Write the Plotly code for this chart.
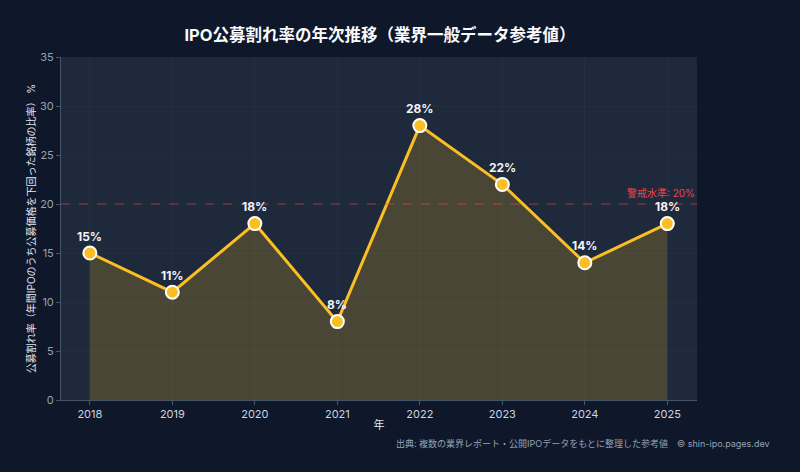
import plotly.graph_objects as go

years = [2018, 2019, 2020, 2021, 2022, 2023, 2024, 2025]
rates = [15, 11, 18, 8, 28, 22, 14, 18]
labels = [f"{v}%" for v in rates]
warn_level = 20

FONT = "Inter, Noto Sans CJK JP, Noto Sans, sans-serif"

fig = go.Figure()
fig.add_trace(go.Scatter(
    x=years, y=rates, mode="lines+markers",
    line=dict(color="#fbbf24", width=3),
    marker=dict(size=13, color="#fbbf24", line=dict(color="#ffffff", width=2)),
    fill="tozeroy", fillcolor="rgba(251,191,36,0.2)",
    cliponaxis=False, showlegend=False,
))
for x, y, t in zip(years, rates, labels):
    fig.add_annotation(x=x, y=y, text=t, showarrow=False, yshift=17,
                       font=dict(color="#f1f5f9", size=12, family=FONT, weight="bold"))
fig.add_hline(y=warn_level, line=dict(color="rgba(239,68,68,0.6)", width=1, dash="dash"),
              annotation_text=f"警戒水準: {warn_level}%", annotation_position="top right",
              annotation_font=dict(color="#ef4444", size=10, family=FONT),
              annotation_yshift=3)

fig.update_layout(
    width=800, height=472,
    paper_bgcolor="#0f172a", plot_bgcolor="#1e293b",
    margin=dict(l=61, r=103, t=57, b=72),
    font=dict(family=FONT, color="#cbd5e1", size=11),
    title=dict(text="IPO公募割れ率の年次推移（業界一般データ参考値）", x=0.475, xanchor="center",
               y=0.925, yanchor="middle",
               font=dict(size=16.5, color="#f8fafc", family=FONT, weight="bold")),
    xaxis=dict(range=[2017.65, 2025.36], tickvals=years, ticktext=[str(y) for y in years],
               title=dict(text="年", font=dict(size=11, color="#e2e8f0"), standoff=1),
               showgrid=True, gridcolor="rgba(255,255,255,0.025)",
               showline=True, linecolor="#475569", ticks="outside", tickcolor="#475569",
               ticklen=4, tickfont=dict(size=11, color="#cbd5e1"), zeroline=False),
    yaxis=dict(range=[0, 35], dtick=5,
               title=dict(text="公募割れ率（年間IPOのうち公募価格を下回った銘柄の比率） %",
                          font=dict(size=10, color="#e2e8f0"), standoff=2),
               showgrid=True, gridcolor="rgba(255,255,255,0.02)",
               showline=True, linecolor="#475569", ticks="outside", tickcolor="#475569",
               ticklen=4, tickfont=dict(size=11, color="#94a3b8"), zeroline=False),
)
fig.add_annotation(text="出典: 複数の業界レポート・公開IPOデータをもとに整理した参考値　© shin-ipo.pages.dev",
                   xref="paper", yref="paper", x=1.118, y=-0.105, xanchor="right", yanchor="top",
                   showarrow=False, font=dict(size=9, color="#94a3b8", family=FONT))

fig.write_html("out.html")
